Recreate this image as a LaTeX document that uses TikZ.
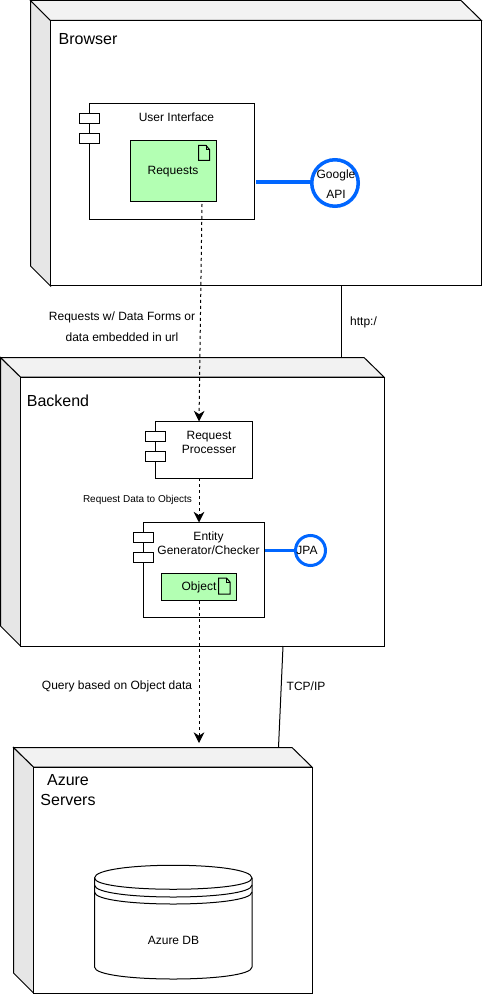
\documentclass[tikz,border=0pt]{standalone}
\usepackage{fontspec}
\setmainfont{Liberation Sans}
\usetikzlibrary{arrows.meta}
\def\px{0.75pt}
\tikzset{
  box/.style={draw=black,line width=1*\px,fill=white,inner sep=0pt,outer sep=0pt},
  port/.style={box,minimum width=20*\px,minimum height=10*\px},
  artifact/.style={box,fill={rgb,255:red,179;green,255;blue,179}},
  iface/.style={circle,draw={rgb,255:red,0;green,102;blue,255},fill=white,inner sep=0pt,outer sep=0pt},
  ifaceline/.style={draw={rgb,255:red,0;green,102;blue,255}},
  big/.style={font=\fontsize{12pt}{15pt}\selectfont,inner sep=0pt},
  small/.style={font=\fontsize{9pt}{10.5pt}\selectfont,inner sep=0pt,align=center},
  tiny/.style={font=\fontsize{7.5pt}{9pt}\selectfont,inner sep=0pt},
  flow/.style={line width=1*\px,dash pattern=on 2.25pt off 2.25pt,-{Stealth[length=8pt,width=8pt,inset=2.5pt]}},
  wire/.style={line width=1*\px},
  faceside/.style={draw=black,line width=1*\px,fill={rgb,255:red,230;green,230;blue,230}},
  facetop/.style={draw=black,line width=1*\px,fill={rgb,255:red,242;green,242;blue,242}},
  sheet/.style={draw=black,line width=1*\px,fill=none}
}
\begin{document}
\begin{tikzpicture}[x=0.75pt,y=-0.75pt]
  \useasboundingbox (0,0) rectangle (482,994);
  % browser device
  \draw[faceside] (30.5,0.5) -- (50.5,20.5) -- (50.5,286) -- (30.5,266) -- cycle;
  \draw[facetop] (30.5,0.5) -- (461,0.5) -- (481.5,20.5) -- (50.5,20.5) -- cycle;
  \node[box,minimum width=431*\px,minimum height=265.5*\px] (browser) at (266,153.25) {};
  \node[big] (browserlabel) at (88,39.5) {Browser};
  \node[box,minimum width=165*\px,minimum height=116*\px] (ui) at (172,161.5) {};
  \node[port] (uiporta) at (89.5,118.5) {};
  \node[port] (uiportb) at (89.5,138.5) {};
  \node[small] (uilabel) at (176.5,117) {User Interface};
  \node[artifact,minimum width=86*\px,minimum height=61*\px] (requests) at (173.5,171) {};
  \draw[line width=1*\px] (198.5,145.5) -- (206,145.5) -- (209.5,149.5) -- (209.5,160.5) -- (198.5,160.5) -- cycle;
  \draw[line width=0.5*\px] (206,145.5) -- (206,149.5) -- (209.5,149.5);
  \node[small] (requestslabel) at (173,171.5) {Requests};
  \node[iface,line width=3.5*\px,minimum size=46.5*\px] (google) at (335,183) {};
  \node[small,font=\fontsize{9pt}{15pt}\selectfont] (googlelabel) at (336,184.5) {Google\\API};
  \coordinate (uiout) at (256,182);
  \draw[ifaceline,line width=4*\px] (uiout) -- (google.west |- uiout);

  % backend device
  \draw[faceside] (0.5,357.5) -- (20.5,377) -- (20.5,646) -- (0.5,626) -- cycle;
  \draw[facetop] (0.5,357.5) -- (364,357.5) -- (384,377) -- (20.5,377) -- cycle;
  \node[box,minimum width=363.5*\px,minimum height=269*\px] (backend) at (202.25,511.5) {};
  \node[big] (backendlabel) at (58,400.5) {Backend};
  \node[box,minimum width=97*\px,minimum height=56.5*\px] (processer) at (204,449.75) {};
  \node[port] (procporta) at (155.5,436.5) {};
  \node[port] (procportb) at (155.5,456.5) {};
  \node[small] (processerlabel) at (209,442) {Request\\Processer};
  \node[box,minimum width=121*\px,minimum height=94.5*\px] (entity) at (204,569.75) {};
  \node[port] (entporta) at (143.5,537.5) {};
  \node[port] (entportb) at (143.5,557.5) {};
  \node[small] (entitylabel) at (208.5,543) {Entity\\Generator/Checker};
  \node[artifact,minimum width=75*\px,minimum height=27*\px] (object) at (199,587) {};
  \draw[line width=1*\px] (218.5,578) -- (226.5,578) -- (230,582) -- (230,594) -- (218.5,594) -- cycle;
  \draw[line width=0.5*\px] (226.5,578) -- (226.5,582) -- (230,582);
  \node[small] (objectlabel) at (199,587) {Object};
  \node[iface,line width=3*\px,minimum size=30*\px] (jpa) at (310.5,550.5) {};
  \node[small] (jpalabel) at (307,550.5) {JPA};
  \coordinate (jpaline) at (265,550);
  \draw[ifaceline,line width=3*\px] (jpaline) -- (jpa.west |- jpaline);

  % azure device
  \draw[faceside] (13.5,747.5) -- (33.5,767) -- (33.5,993) -- (13.5,973) -- cycle;
  \draw[facetop] (13.5,747.5) -- (292,747.5) -- (312,767) -- (33.5,767) -- cycle;
  \node[box,minimum width=278.5*\px,minimum height=226*\px] (azure) at (172.75,880) {};
  \node[big,align=center] (azurelabel) at (68,790) {Azure\\Servers};
  \draw[sheet,fill=white] (94.5,878) .. controls (94.5,861) and (252,861) .. (252,878) -- (252,967) .. controls (252,983) and (94.5,983) .. (94.5,967) -- cycle;
  \draw[sheet] (94.5,878) .. controls (94.5,893) and (252,893) .. (252,878);
  \draw[sheet] (94.5,885) .. controls (94.5,901) and (252,901) .. (252,885);
  \draw[sheet] (94.5,892) .. controls (94.5,908) and (252,908) .. (252,892);
  \node[small] (azuredb) at (173.5,940) {Azure DB};

  % connectors
  \coordinate (reqout) at (202,204);
  \coordinate (procin) at (199,421.5);
  \coordinate (procout) at (199,478);
  \coordinate (entin) at (199,522.5);
  \coordinate (objout) at (199,601);
  \coordinate (azurein) at (199,743);
  \coordinate (browserout) at (341.5,286);
  \coordinate (backendin) at (341.5,357.5);
  \coordinate (backendout) at (283,646);
  \coordinate (azuretop) at (278.5,747.5);
  \draw[flow] (reqout) -- (procin);
  \draw[flow] (procout) -- (entin);
  \draw[flow] (objout) -- (azurein);
  \draw[wire] (browserout) -- (backendin);
  \draw[wire] (backendout) -- (azuretop);

  \node[small,font=\fontsize{9pt}{15.75pt}\selectfont] (formslabel) at (122,326.5) {Requests w/ Data Forms or\\data embedded in url};
  \node[small] (httplabel) at (363.5,322) {http:/};
  \node[tiny] (datalabel) at (137.5,500) {Request Data to Objects};
  \node[small] (querylabel) at (117,686) {Query based on Object data};
  \node[small] (tcplabel) at (306,686) {TCP/IP};
\end{tikzpicture}
\end{document}
